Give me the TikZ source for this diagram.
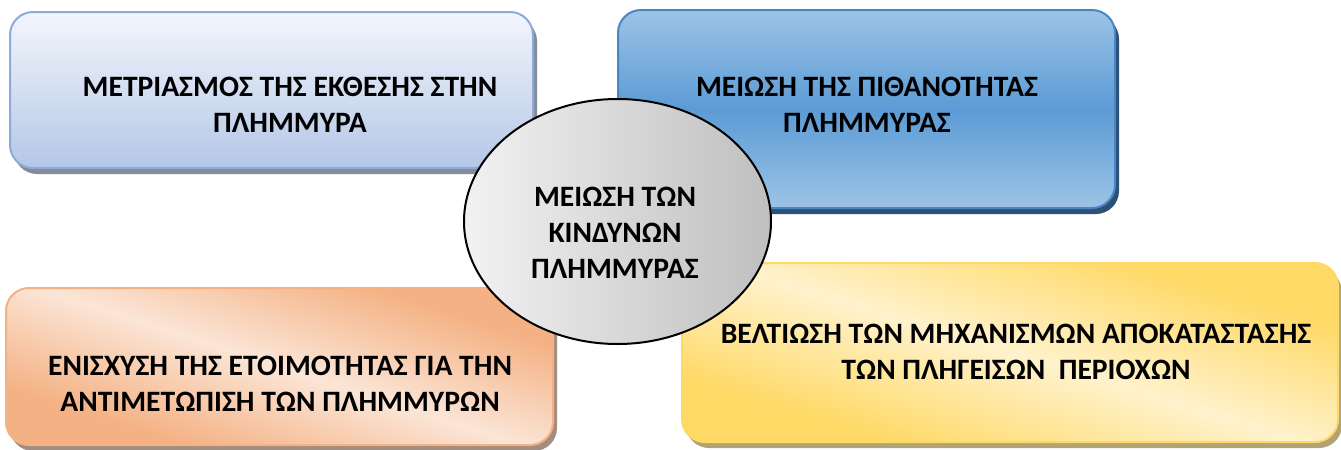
\documentclass[tikz,border=0pt]{standalone}
\usepackage{fontspec}
\setmainfont{Carlito}
\usetikzlibrary{shapes.geometric,shadows}

\definecolor{bleuA}{HTML}{F3F6FC}
\definecolor{bleuB}{HTML}{B4C7E7}
\definecolor{bleuC}{HTML}{8EAADB}
\definecolor{bleuD}{HTML}{9DC3E6}
\definecolor{bleuE}{HTML}{5B9BD5}
\definecolor{bleuF}{HTML}{4A86C4}
\definecolor{orangeA}{HTML}{F4B183}
\definecolor{orangeB}{HTML}{FBE5D6}
\definecolor{jauneA}{HTML}{FFD966}
\definecolor{jauneB}{HTML}{FFF2CC}
\definecolor{grisA}{HTML}{F2F2F2}
\definecolor{grisB}{HTML}{BFBFBF}

\pgfdeclareverticalshading{degOrange}{100bp}{color(0bp)=(orangeA); color(29bp)=(orangeA);
  color(50bp)=(orangeB); color(71bp)=(orangeA); color(100bp)=(orangeA)}
\pgfdeclareverticalshading{degJaune}{100bp}{color(0bp)=(jauneA); color(29bp)=(jauneA);
  color(50bp)=(jauneB); color(71bp)=(jauneA); color(100bp)=(jauneA)}

\begin{document}
\begin{tikzpicture}[x=0.5pt,y=-0.5pt]
  \tikzstyle{boite}=[rounded corners=11.5pt, line width=1pt, inner sep=0];
  \tikzstyle{ombre}=[drop shadow={shadow xshift=2pt, shadow yshift=-3pt, fill=#1, opacity=1}];
  \tikzstyle{texte}=[align=center, inner sep=0, font=\fontsize{14.8}{18}\selectfont\bfseries];

  \useasboundingbox (0,0) rectangle (1341,450);

  \node[boite, ombre=gray!70!bleuC, draw=bleuC, top color=bleuA, bottom color=bleuB,
        minimum width=261.5pt, minimum height=78pt] (B1) at (271.5,90) {};
  \node[boite, ombre=bleuF!60!black, draw=bleuF, top color=bleuD, bottom color=bleuD, middle color=bleuE,
        minimum width=248.5pt, minimum height=99pt] (B2) at (866.5,109) {};
  \node[boite, ombre=gray!70!orangeA, draw=orangeA, shading=degOrange, shading angle=-18,
        minimum width=273.5pt, minimum height=78.5pt] (B3) at (279.5,366.5) {};
  \node[boite, ombre=gray!60!jauneA, draw=jauneA, shading=degJaune, shading angle=-17,
        minimum width=328pt, minimum height=89.5pt] (B4) at (1010,352.5) {};

  \node[ellipse, draw, line width=1pt, left color=grisA, right color=grisB,
        minimum width=153.5pt, minimum height=122.5pt, inner sep=0] (C) at (617.5,221.5) {};

  \node[texte] (T1) at (290,105) {ΜΕΤΡΙΑΣΜΟΣ ΤΗΣ ΕΚΘΕΣΗΣ ΣΤΗΝ\\ΠΛΗΜΜΥΡΑ};
  \node[texte] (T2) at (867,105) {ΜΕΙΩΣΗ ΤΗΣ ΠΙΘΑΝΟΤΗΤΑΣ\\ΠΛΗΜΜΥΡΑΣ};
  \node[texte] (T3) at (280,384) {ΕΝΙΣΧΥΣΗ ΤΗΣ ΕΤΟΙΜΟΤΗΤΑΣ ΓΙΑ ΤΗΝ\\ΑΝΤΙΜΕΤΩΠΙΣΗ ΤΩΝ ΠΛΗΜΜΥΡΩΝ};
  \node[texte] (T4) at (1016,352) {ΒΕΛΤΙΩΣΗ ΤΩΝ ΜΗΧΑΝΙΣΜΩΝ ΑΠΟΚΑΤΑΣΤΑΣΗΣ\\ΤΩΝ ΠΛΗΓΕΙΣΩΝ~~ΠΕΡΙΟΧΩΝ};
  \node[texte] (TC) at (615,233) {ΜΕΙΩΣΗ ΤΩΝ\\ΚΙΝΔΥΝΩΝ\\ΠΛΗΜΜΥΡΑΣ};
\end{tikzpicture}
\end{document}
